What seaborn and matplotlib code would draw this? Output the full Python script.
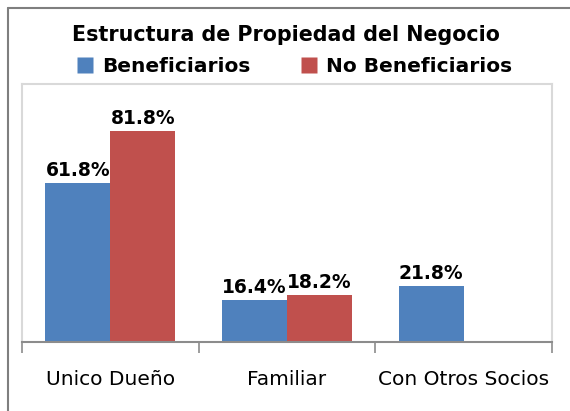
import pandas as pd
import numpy as np
import matplotlib
matplotlib.use("Agg")
import matplotlib.pyplot as plt
from matplotlib.lines import Line2D
import seaborn as sns

# Data
categories = ["Unico Dueño", "Familiar", "Con Otros Socios"]
beneficiarios = [61.8, 16.4, 21.8]
no_beneficiarios = [81.8, 18.2, np.nan]
series_names = ["Beneficiarios", "No Beneficiarios"]
colors = ["#4F81BD", "#C0504D"]

df = pd.DataFrame({
    "categoria": categories * 2,
    "grupo": [series_names[0]] * 3 + [series_names[1]] * 3,
    "valor": beneficiarios + no_beneficiarios,
})

sns.set_style("white")
plt.rcParams["font.family"] = ["DejaVu Sans"]
plt.rcParams["text.color"] = "black"
plt.rcParams["xtick.color"] = "black"

fig = plt.figure(figsize=(5.7, 4.11), dpi=100)
ax = fig.add_axes([22 / 570, 69 / 411, 530 / 570, 258 / 411])

sns.barplot(data=df, x="categoria", y="valor", hue="grupo",
            palette=colors, width=0.735, saturation=1, ax=ax,
            edgecolor="none", legend=False)

for cont in ax.containers:
    labels = ["" if np.isnan(v) else f"{v:.1f}%" for v in cont.datavalues]
    ax.bar_label(cont, labels=labels, padding=2, fontsize=13.5,
                 fontweight="bold", color="black")

ax.set_ylim(0, 100)
ax.set_xlim(-0.5, 2.5)
ax.set_yticks([])
ax.set_xlabel("")
ax.set_ylabel("")
ax.set_xticks([0, 1, 2])
ax.set_xticklabels(categories, fontsize=14.5, color="black")
ax.tick_params(axis="x", which="major", length=0, pad=20)
ax.set_xticks([-0.5, 0.5, 1.5, 2.5], minor=True)
ax.tick_params(axis="x", which="minor", length=8, width=1.2, color="#8c8c8c",
               bottom=True)

for side in ["left", "top", "right"]:
    ax.spines[side].set_visible(True)
    ax.spines[side].set_color("#d9d9d9")
    ax.spines[side].set_linewidth(1.5)
ax.spines["bottom"].set_color("#8c8c8c")
ax.spines["bottom"].set_linewidth(1.5)

# title and legend
fig.text(286 / 570, 1 - 35 / 411, "Estructura de Propiedad del Negocio",
         ha="center", va="center", fontsize=14.9, fontweight="bold",
         color="black")
handles = [Line2D([], [], marker="s", linestyle="none", markersize=11.5,
                  markerfacecolor=c, markeredgecolor="none") for c in colors]
fig.legend(handles, series_names, loc="center", ncol=2,
           bbox_to_anchor=(294 / 570, 1 - 67 / 411), frameon=False,
           prop={"size": 14.5, "weight": "bold"}, handletextpad=0.35,
           columnspacing=2.4, handlelength=1.0, labelcolor="black")

# outer chart border
fig.add_artist(Line2D([8 / 570, 8 / 570], [0, 1 - 8 / 411], color="#7f7f7f", lw=1.5))
fig.add_artist(Line2D([8 / 570, 1], [1 - 8 / 411, 1 - 8 / 411], color="#7f7f7f", lw=1.5))

fig.savefig("out.png", dpi=100)
